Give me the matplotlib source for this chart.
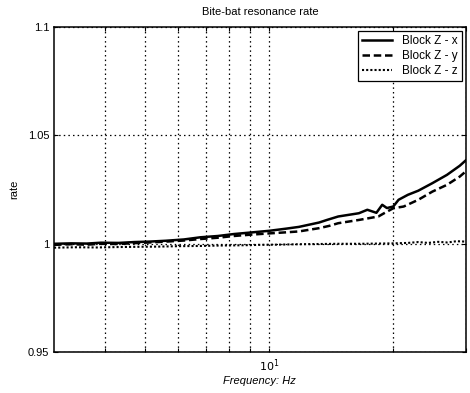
import numpy as np
import matplotlib
matplotlib.use("Agg")
import matplotlib.pyplot as plt
from matplotlib.ticker import FixedLocator, NullFormatter

plt.rcParams['font.family'] = ['Liberation Sans', 'DejaVu Sans']

freq_x = [3.0, 3.3, 3.6, 3.9, 4.3, 4.7, 5.1, 5.6, 6.2, 6.8, 7.5, 8.2, 9.0, 10.0, 11.0, 11.8,
          13.2, 13.8, 14.7, 16.5, 17.3, 18.2, 18.8, 19.3, 20.0, 20.6, 21.7, 23.0, 24.9,
          27.0, 29.0, 30.0]
rate_x = [1.0000, 1.0002, 1.0001, 1.0005, 1.0004, 1.0008, 1.0010, 1.0014, 1.0020, 1.0030,
          1.0036, 1.0045, 1.0052, 1.0060, 1.0070, 1.0078, 1.0098, 1.0110, 1.0126, 1.0141,
          1.0157, 1.0143, 1.0180, 1.0165, 1.0172, 1.0203, 1.0226, 1.0245, 1.0280, 1.0318,
          1.0360, 1.0385]

freq_y = [3.0, 3.3, 3.6, 3.9, 4.3, 4.7, 5.1, 5.6, 6.2, 6.8, 7.5, 8.2, 9.0, 10.0, 11.0, 11.8,
          13.2, 14.0, 14.7, 16.5, 18.4, 19.0, 20.0, 21.2, 23.0, 24.9, 27.0, 29.0, 30.0]
rate_y = [0.9995, 0.9998, 0.9996, 1.0000, 0.9999, 1.0003, 1.0006, 1.0010, 1.0015, 1.0022,
          1.0028, 1.0036, 1.0042, 1.0048, 1.0053, 1.0057, 1.0072, 1.0083, 1.0095, 1.0110,
          1.0126, 1.0141, 1.0164, 1.0172, 1.0203, 1.0241, 1.0272, 1.0310, 1.0334]

freq_z = [3.0, 3.4, 3.8, 4.3, 4.8, 5.4, 6.0, 6.8, 7.6, 8.5, 9.5, 10.5, 11.8, 13.2, 14.7,
          16.5, 18.4, 20.0, 21.7, 23.0, 24.3, 25.7, 27.1, 28.5, 30.0]
rate_z = [0.9982, 0.9984, 0.9983, 0.9985, 0.9986, 0.9987, 0.9989, 0.9990, 0.9992, 0.9993,
          0.9995, 0.9996, 0.9998, 0.9999, 1.0000, 1.0000, 1.0001, 1.0002, 1.0004, 1.0008,
          1.0004, 1.0009, 1.0006, 1.0012, 1.0010]

labels = ['Block Z - x', 'Block Z - y', 'Block Z - z']

fig = plt.figure(figsize=(4.7, 3.93), dpi=100)
ax = fig.add_axes([0.115, 0.104, 0.876, 0.827])

ax.plot(freq_x, rate_x, color='black', lw=1.8, ls='-', label=labels[0])
ax.plot(freq_y, rate_y, color='black', lw=1.8, ls=(0, (3, 1.5)), label=labels[1])
ax.plot(freq_z, rate_z, color='black', lw=1.5, ls=(0, (1, 1)), label=labels[2])

ax.set_xscale('log')
ax.set_xlim(3, 30)
ax.set_ylim(0.95, 1.1)
ax.set_yticks([0.95, 1.0, 1.05, 1.1])
ax.set_yticklabels(['0.95', '1', '1.05', '1.1'])
ax.xaxis.set_major_locator(FixedLocator([10]))
ax.xaxis.set_minor_locator(FixedLocator([4, 5, 6, 7, 8, 9, 20, 30]))
ax.xaxis.set_minor_formatter(NullFormatter())
ax.set_xticklabels(['$10^1$'])

ax.grid(True, which='both', axis='x', color='black', ls=(0, (1.2, 2.5)), lw=0.9)
ax.grid(True, which='major', axis='y', color='black', ls=(0, (1.2, 2.5)), lw=0.9)

ax.tick_params(which='both', direction='in', top=True, right=True, labelsize=8,
               length=3, width=0.8)
for s in ax.spines.values():
    s.set_linewidth(1.1)

ax.set_title('Bite-bat resonance rate', fontsize=8, pad=9)
ax.set_xlabel('Frequency: Hz', fontsize=8, style='italic', labelpad=2)
ax.set_ylabel('rate', fontsize=8, labelpad=6)

leg = ax.legend(loc='upper right', fontsize=8.5, fancybox=False, framealpha=1,
                edgecolor='black', borderpad=0.35, handlelength=2.6, labelspacing=0.25,
                borderaxespad=0.35, handletextpad=0.8)
leg.get_frame().set_linewidth(0.9)

fig.savefig('out.png', dpi=100)
